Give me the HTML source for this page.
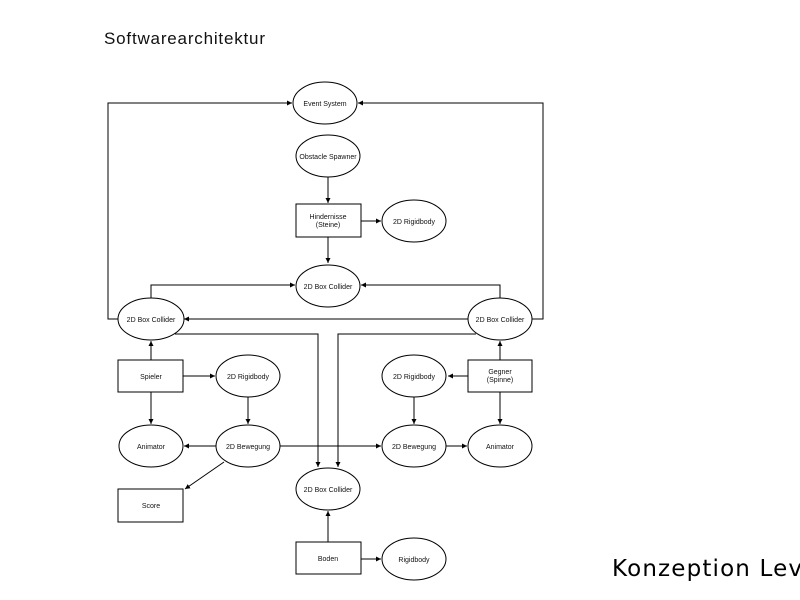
<!DOCTYPE html>
<html><head><meta charset="utf-8"><style>
html,body{margin:0;padding:0;background:#fff;width:800px;height:600px;overflow:hidden}
svg{display:block}
text{font-family:"Liberation Sans",Arial,sans-serif}
.n{font-size:7px;text-anchor:middle;fill:#111}
</style></head><body>
<svg width="800" height="600" viewBox="0 0 800 600" xmlns="http://www.w3.org/2000/svg">
<defs><marker id="a" markerWidth="6" markerHeight="6" refX="5" refY="3" orient="auto" markerUnits="userSpaceOnUse"><path d="M0,0.5 L5,3 L0,5.5z" fill="#000"/></marker></defs>
<text x="104" y="44" font-size="17" textLength="161" fill="#111">Softwarearchitektur</text>
<text x="612" y="576" font-size="23" fill="#000" style="font-family:'DejaVu Sans',sans-serif" textLength="190">Konzeption Lev</text>
<g fill="none" stroke="#000" stroke-width="1">
<polyline points="118,319 108,319 108,103 292,103" marker-end="url(#a)"/>
<polyline points="532,319 543,319 543,103 358,103" marker-end="url(#a)"/>
<line x1="328" y1="177" x2="328" y2="203" marker-end="url(#a)"/>
<line x1="361" y1="221" x2="381" y2="221" marker-end="url(#a)"/>
<line x1="328" y1="237" x2="328" y2="263" marker-end="url(#a)"/>
<polyline points="151,298 151,285 295,285" marker-end="url(#a)"/>
<polyline points="500,298 500,285 361,285" marker-end="url(#a)"/>
<line x1="468" y1="319" x2="184" y2="319" marker-end="url(#a)"/>
<polyline points="175,334 318,334 318,467" marker-end="url(#a)"/>
<polyline points="476,334 338,334 338,467" marker-end="url(#a)"/>
<line x1="151" y1="360" x2="151" y2="341" marker-end="url(#a)"/>
<line x1="500" y1="360" x2="500" y2="341" marker-end="url(#a)"/>
<line x1="183" y1="376" x2="215" y2="376" marker-end="url(#a)"/>
<line x1="468" y1="376" x2="448" y2="376" marker-end="url(#a)"/>
<line x1="151" y1="392" x2="151" y2="424" marker-end="url(#a)"/>
<line x1="500" y1="392" x2="500" y2="424" marker-end="url(#a)"/>
<line x1="248" y1="397" x2="248" y2="424" marker-end="url(#a)"/>
<line x1="414" y1="397" x2="414" y2="424" marker-end="url(#a)"/>
<line x1="216" y1="446" x2="184" y2="446" marker-end="url(#a)"/>
<line x1="280" y1="446" x2="381" y2="446" marker-end="url(#a)"/>
<line x1="446" y1="446" x2="467" y2="446" marker-end="url(#a)"/>
<line x1="224" y1="462" x2="185" y2="489" marker-end="url(#a)"/>
<line x1="328" y1="542" x2="328" y2="511" marker-end="url(#a)"/>
<line x1="361" y1="559" x2="381" y2="559" marker-end="url(#a)"/>
</g>
<g fill="#fff" stroke="#000" stroke-width="1">
<ellipse cx="325" cy="103" rx="32" ry="21"/>
<ellipse cx="328" cy="156" rx="32" ry="21"/>
<rect x="296" y="204" width="65" height="33"/>
<ellipse cx="414" cy="221" rx="32" ry="21"/>
<ellipse cx="328" cy="286" rx="32" ry="21"/>
<ellipse cx="151" cy="319" rx="33" ry="21"/>
<ellipse cx="500" cy="319" rx="32" ry="21"/>
<rect x="118" y="360" width="65" height="32"/>
<ellipse cx="248" cy="376" rx="32" ry="21"/>
<rect x="468" y="360" width="64" height="32"/>
<ellipse cx="414" cy="376" rx="32" ry="21"/>
<ellipse cx="151" cy="446" rx="32" ry="21"/>
<ellipse cx="248" cy="446" rx="32" ry="21"/>
<ellipse cx="414" cy="446" rx="32" ry="21"/>
<ellipse cx="500" cy="446" rx="32" ry="21"/>
<ellipse cx="328" cy="489" rx="32" ry="21"/>
<rect x="118" y="489" width="65" height="33"/>
<rect x="296" y="542" width="65" height="32"/>
<ellipse cx="414" cy="559" rx="32" ry="21"/>
</g>
<text class="n" x="325" y="106">Event System</text>
<text class="n" x="328" y="159">Obstacle Spawner</text>
<text class="n" x="328" y="219">Hindernisse</text>
<text class="n" x="328" y="227">(Steine)</text>
<text class="n" x="414" y="224">2D Rigidbody</text>
<text class="n" x="328" y="289">2D Box Collider</text>
<text class="n" x="151" y="322">2D Box Collider</text>
<text class="n" x="500" y="322">2D Box Collider</text>
<text class="n" x="151" y="379">Spieler</text>
<text class="n" x="248" y="379">2D Rigidbody</text>
<text class="n" x="500" y="374">Gegner</text>
<text class="n" x="500" y="382">(Spinne)</text>
<text class="n" x="414" y="379">2D Rigidbody</text>
<text class="n" x="151" y="449">Animator</text>
<text class="n" x="248" y="449">2D Bewegung</text>
<text class="n" x="414" y="449">2D Bewegung</text>
<text class="n" x="500" y="449">Animator</text>
<text class="n" x="328" y="492">2D Box Collider</text>
<text class="n" x="151" y="508">Score</text>
<text class="n" x="328" y="561">Boden</text>
<text class="n" x="414" y="562">Rigidbody</text>
</svg>
</body></html>
